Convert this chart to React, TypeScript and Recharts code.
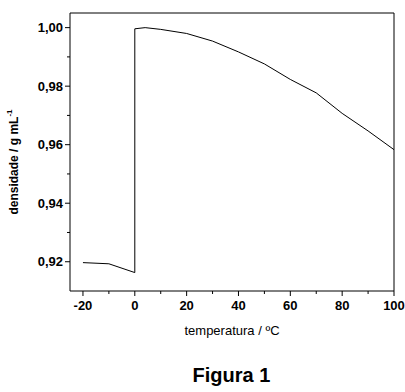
import React from "react"
import { LineChart, Line, XAxis, YAxis, ReferenceLine } from "recharts"

// temperatura (ºC) and densidade (g mL-1)
const temperatures = [-20, -10, 0, 0, 4, 10, 20, 30, 40, 50, 60, 70, 80, 90, 100]
const densities = [
  0.9197, 0.9193, 0.9163, 0.9996, 1.0, 0.9994, 0.9980, 0.9954, 0.9917, 0.9876,
  0.9823, 0.9777, 0.9707, 0.9647, 0.9583,
]

const xMajor = [-20, 0, 20, 40, 60, 80, 100]
const xMinor = [-10, 10, 30, 50, 70, 90]
const yMajor = [0.92, 0.94, 0.96, 0.98, 1.0]
const yMinor = [0.93, 0.95, 0.97, 0.99]

const data = temperatures.map((t, i) => ({ t, d: densities[i] }))

const tickFont = "'Liberation Sans', Arial, sans-serif"

const XTick = (props: any) => {
  const { x, y, payload } = props
  const major = xMajor.includes(payload.value)
  return (
    <g>
      <line x1={x} x2={x} y1={y} y2={y + (major ? 5 : 3)} stroke="#000" />
      {major && (
        <text x={x} y={y + 19} textAnchor="middle" fontFamily={tickFont} fontSize={13} fontWeight="bold" fill="#000">
          {payload.value}
        </text>
      )}
    </g>
  )
}

const YTick = (props: any) => {
  const { x, y, payload } = props
  const major = yMajor.some((v) => Math.abs(v - payload.value) < 1e-6)
  return (
    <g>
      <line x1={x} x2={x - (major ? 5 : 3)} y1={y} y2={y} stroke="#000" />
      {major && (
        <text x={x - 7} y={y} dy="0.36em" textAnchor="end" fontFamily={tickFont} fontSize={13} fontWeight="bold" fill="#000">
          {payload.value.toFixed(2).replace(".", ",")}
        </text>
      )}
    </g>
  )
}

export default function App() {
  const xTicks = [...xMajor, ...xMinor].sort((a, b) => a - b)
  const yTicks = [...yMajor, ...yMinor].sort((a, b) => a - b)

  return (
    <div style={{ position: "absolute", left: 0, top: 0, width: 405, height: 392, background: "#fff" }}>
      <LineChart width={405} height={392} data={data} margin={{ top: 13, right: 11, left: 20, bottom: 71 }}>
        <XAxis
          dataKey="t"
          type="number"
          domain={[-25, 100]}
          ticks={xTicks}
          interval={0}
          height={30}
          tickSize={0}
          tickMargin={0}
          tickLine={false}
          axisLine={{ stroke: "#000" }}
          tick={<XTick />}
          label={{
            content: (p: any) => {
              const vb = p.viewBox
              return (
                <text x={vb.x + vb.width / 2} y={vb.y + 44} textAnchor="middle" fontFamily={tickFont} fontSize={13} fill="#000">
                  temperatura / ºC
                </text>
              )
            },
          }}
        />
        <YAxis
          type="number"
          domain={[0.91, 1.005]}
          ticks={yTicks}
          interval={0}
          width={50}
          tickSize={0}
          tickMargin={0}
          tickLine={false}
          axisLine={{ stroke: "#000" }}
          tick={<YTick />}
          label={{
            content: (p: any) => {
              const vb = p.viewBox
              const cx = vb.x - 6
              const cy = vb.y + vb.height / 2 + 10
              return (
                <text
                  x={cx}
                  y={cy}
                  transform={`rotate(-90 ${cx} ${cy})`}
                  textAnchor="middle"
                  dominantBaseline="central"
                  fontFamily={tickFont}
                  fontSize={12}
                  fontWeight="bold"
                  fill="#000"
                >
                  densidade / g mL
                  <tspan fontSize={8} dy={-5}>-1</tspan>
                </text>
              )
            },
          }}
        />
        <ReferenceLine y={1.005} stroke="#000" />
        <ReferenceLine x={100} stroke="#000" />
        <Line
          type="linear"
          dataKey="d"
          stroke="#000"
          strokeWidth={1}
          dot={false}
          isAnimationActive={false}
        />
      </LineChart>
      <div
        style={{
          position: "absolute",
          left: 0,
          width: 463,
          top: 365,
          textAlign: "center",
          fontFamily: tickFont,
          fontSize: 20,
          fontWeight: "bold",
          lineHeight: "20px",
        }}
      >
        Figura 1
      </div>
    </div>
  )
}
